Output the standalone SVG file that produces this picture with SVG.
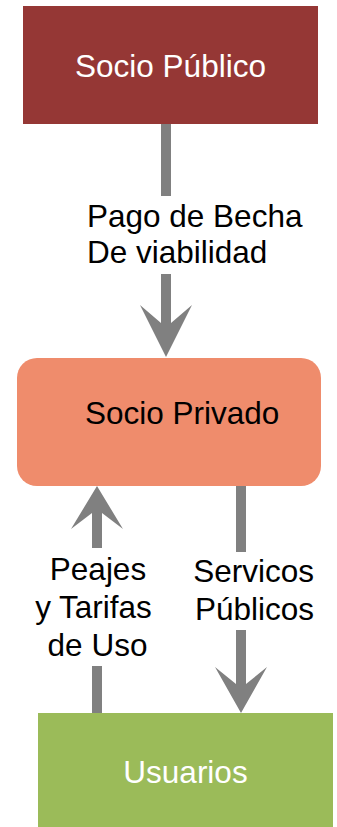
<svg xmlns="http://www.w3.org/2000/svg" width="337" height="827" viewBox="0 0 337 827">
<style>
text{font-family:"Liberation Sans",Arial,sans-serif;font-size:31.5px}
.w{fill:#ffffff}
.b{fill:#000000}
.con{fill:#808080;stroke:none}
</style>
<rect width="337" height="827" fill="#ffffff"/>
<g id="connectors">
<g id="c1">
<rect class="con" x="161" y="124" width="10" height="72"/>
<path class="con" d="M161,274 L171,274 L171,323 L192,305 L166,357 L140,305 L161,323 Z"/>
</g>
<g id="c2">
<rect class="con" x="92" y="666" width="10" height="47"/>
<path class="con" d="M92,548 L92,513 L71,529 L97,486 L123,529 L102,513 L102,548 Z"/>
</g>
<g id="c3">
<rect class="con" x="236" y="486" width="10" height="66"/>
<path class="con" d="M236,630 L236,684 L215,667 L241,713 L267,667 L246,684 L246,630 Z"/>
</g>
<g id="labels">
<text class="b" x="87" y="227">Pago de Becha</text>
<text class="b" x="87" y="263">De viabilidad</text>
<text class="b" x="98" y="580" text-anchor="middle">Peajes</text>
<text class="b" x="93.5" y="618" text-anchor="middle">y Tarifas</text>
<text class="b" x="97.5" y="656" text-anchor="middle">de Uso</text>
<text class="b" x="314" y="582" text-anchor="end">Servicos</text>
<text class="b" x="314" y="620" text-anchor="end">Públicos</text>
</g>
</g>
<g id="socio-publico">
<rect x="23" y="6" width="295" height="118" fill="#953735"/>
<text class="w" x="170.5" y="77" text-anchor="middle">Socio Público</text>
</g>
<g id="socio-privado">
<rect x="17" y="358" width="304" height="128" rx="20" ry="20" fill="#EF8C6C"/>
<text class="b" x="85" y="424">Socio Privado</text>
</g>
<g id="usuarios">
<rect x="38" y="713" width="295" height="114" fill="#9BBB59"/>
<text class="w" x="185.5" y="783" text-anchor="middle">Usuarios</text>
</g>
</svg>
